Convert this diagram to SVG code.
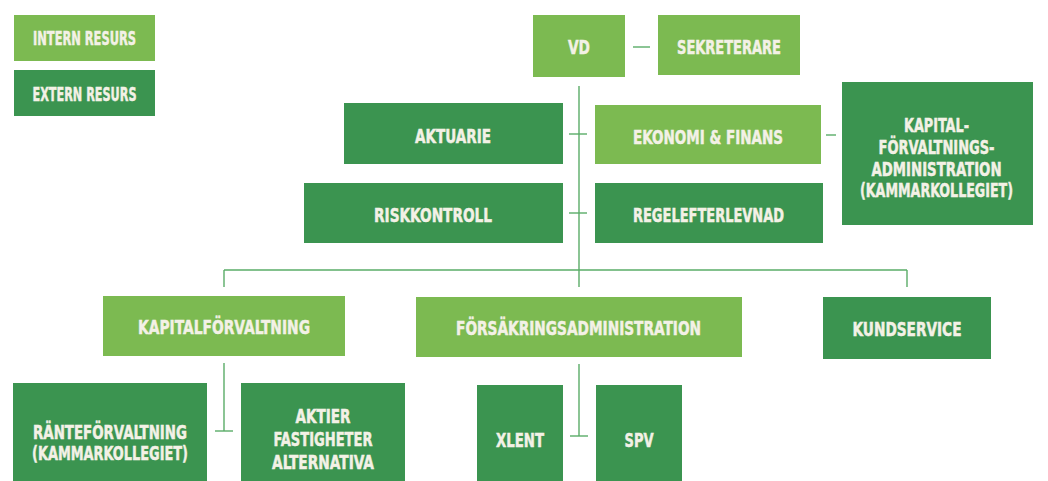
<svg xmlns="http://www.w3.org/2000/svg" width="1048" height="481" viewBox="0 0 1048 481">
  <style>
    .int { fill: #7cba51; }
    .ext { fill: #3b9450; }
    .lbl { font-family: "DejaVu Sans Condensed", "Liberation Sans Narrow", "Liberation Sans", sans-serif; font-weight: bold; font-size: 14px; fill: #f3f1e6; stroke: #f3f1e6; stroke-width: 0.35; text-anchor: middle; }
    .con line { stroke: #5aac67; stroke-width: 1.4; fill: none; }
  </style>
  <rect width="1048" height="481" fill="#ffffff"/>

  <g id="connectors" class="con">
    <line x1="633" y1="47" x2="650" y2="47"/>
    <line x1="579" y1="86" x2="579" y2="287"/>
    <line x1="569" y1="134" x2="587" y2="134"/>
    <line x1="569" y1="213" x2="587" y2="213"/>
    <line x1="826" y1="135" x2="836" y2="135"/>
    <line x1="224" y1="270" x2="907" y2="270"/>
    <line x1="224" y1="270" x2="224" y2="287"/>
    <line x1="907" y1="270" x2="907" y2="287"/>
    <line x1="224" y1="363" x2="224" y2="431"/>
    <line x1="215" y1="431" x2="233" y2="431"/>
    <line x1="579" y1="364" x2="579" y2="436"/>
    <line x1="570" y1="436" x2="588" y2="436"/>
  </g>

  <g id="legend-intern">
    <rect class="int" x="14" y="15" width="141" height="46"/>
    <text class="lbl" transform="translate(84.5,45) scale(1,1.35)" textLength="103" lengthAdjust="spacingAndGlyphs">INTERN RESURS</text>
  </g>
  <g id="legend-extern">
    <rect class="ext" x="14" y="70" width="141" height="46"/>
    <text class="lbl" transform="translate(84.5,101) scale(1,1.35)" textLength="104" lengthAdjust="spacingAndGlyphs">EXTERN RESURS</text>
  </g>

  <g id="vd">
    <rect class="int" x="533" y="15" width="92" height="62"/>
    <text class="lbl" transform="translate(579,54) scale(1,1.4)" textLength="22" lengthAdjust="spacingAndGlyphs">VD</text>
  </g>
  <g id="sekreterare">
    <rect class="int" x="658" y="15" width="142" height="60"/>
    <text class="lbl" transform="translate(729,54) scale(1,1.4)" textLength="104" lengthAdjust="spacingAndGlyphs">SEKRETERARE</text>
  </g>
  <g id="aktuarie">
    <rect class="ext" x="344" y="103" width="219" height="61"/>
    <text class="lbl" transform="translate(453,143) scale(1,1.4)" textLength="76" lengthAdjust="spacingAndGlyphs">AKTUARIE</text>
  </g>
  <g id="ekonomi">
    <rect class="int" x="595" y="105" width="226" height="59"/>
    <text class="lbl" transform="translate(708,144) scale(1,1.4)" textLength="150" lengthAdjust="spacingAndGlyphs">EKONOMI &amp; FINANS</text>
  </g>
  <g id="kapitalforvaltningsadministration">
    <rect class="ext" x="842" y="82" width="191" height="143"/>
    <text class="lbl" transform="translate(936.5,132) scale(1,1.4)" textLength="65" lengthAdjust="spacingAndGlyphs">KAPITAL-</text>
    <text class="lbl" transform="translate(936.5,154) scale(1,1.4)" textLength="116" lengthAdjust="spacingAndGlyphs">FÖRVALTNINGS-</text>
    <text class="lbl" transform="translate(936.5,176) scale(1,1.4)" textLength="130" lengthAdjust="spacingAndGlyphs">ADMINISTRATION</text>
    <text class="lbl" transform="translate(936.5,197) scale(1,1.4)" textLength="153" lengthAdjust="spacingAndGlyphs">(KAMMARKOLLEGIET)</text>
  </g>
  <g id="riskkontroll">
    <rect class="ext" x="304" y="183" width="259" height="60"/>
    <text class="lbl" transform="translate(433,222) scale(1,1.4)" textLength="118" lengthAdjust="spacingAndGlyphs">RISKKONTROLL</text>
  </g>
  <g id="regelefterlevnad">
    <rect class="ext" x="595" y="183" width="228" height="60"/>
    <text class="lbl" transform="translate(708.5,222) scale(1,1.4)" textLength="151" lengthAdjust="spacingAndGlyphs">REGELEFTERLEVNAD</text>
  </g>
  <g id="kapitalforvaltning">
    <rect class="int" x="103" y="296" width="242" height="60"/>
    <text class="lbl" transform="translate(224,334) scale(1,1.4)" textLength="172" lengthAdjust="spacingAndGlyphs">KAPITALFÖRVALTNING</text>
  </g>
  <g id="forsakringsadministration">
    <rect class="int" x="416" y="297" width="326" height="60"/>
    <text class="lbl" transform="translate(578.5,335) scale(1,1.4)" textLength="245" lengthAdjust="spacingAndGlyphs">FÖRSÄKRINGSADMINISTRATION</text>
  </g>
  <g id="kundservice">
    <rect class="ext" x="823" y="297" width="168" height="62"/>
    <text class="lbl" transform="translate(907,336) scale(1,1.4)" textLength="109" lengthAdjust="spacingAndGlyphs">KUNDSERVICE</text>
  </g>
  <g id="ranteforvaltning">
    <rect class="ext" x="13" y="383" width="194" height="100"/>
    <text class="lbl" transform="translate(110,439) scale(1,1.4)" textLength="154" lengthAdjust="spacingAndGlyphs">RÄNTEFÖRVALTNING</text>
    <text class="lbl" transform="translate(110,460) scale(1,1.4)" textLength="156" lengthAdjust="spacingAndGlyphs">(KAMMARKOLLEGIET)</text>
  </g>
  <g id="aktier">
    <rect class="ext" x="241" y="383" width="164" height="100"/>
    <text class="lbl" transform="translate(323,423) scale(1,1.4)" textLength="55" lengthAdjust="spacingAndGlyphs">AKTIER</text>
    <text class="lbl" transform="translate(323,446) scale(1,1.4)" textLength="99" lengthAdjust="spacingAndGlyphs">FASTIGHETER</text>
    <text class="lbl" transform="translate(323,469) scale(1,1.4)" textLength="102" lengthAdjust="spacingAndGlyphs">ALTERNATIVA</text>
  </g>
  <g id="xlent">
    <rect class="ext" x="477" y="385" width="86" height="100"/>
    <text class="lbl" transform="translate(520,447) scale(1,1.4)" textLength="48" lengthAdjust="spacingAndGlyphs">XLENT</text>
  </g>
  <g id="spv">
    <rect class="ext" x="596" y="385" width="86" height="100"/>
    <text class="lbl" transform="translate(639,447) scale(1,1.4)" textLength="29" lengthAdjust="spacingAndGlyphs">SPV</text>
  </g>
</svg>
